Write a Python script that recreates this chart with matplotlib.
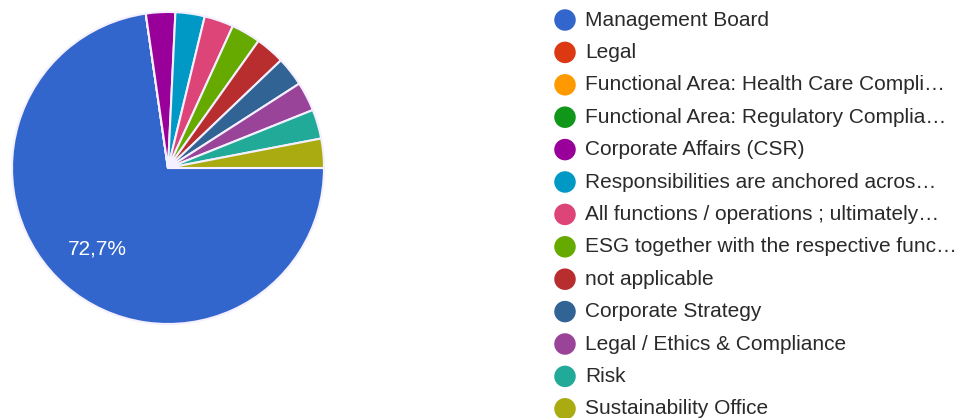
import matplotlib
matplotlib.use('Agg')
import matplotlib.pyplot as plt

plt.rcParams['font.family'] = ['Liberation Sans', 'DejaVu Sans']

# answers per responsible function
labels = [
    'Management Board',
    'Legal',
    'Functional Area: Health Care Compli\u2026',
    'Functional Area: Regulatory Complia\u2026',
    'Corporate Affairs (CSR)',
    'Responsibilities are anchored acros\u2026',
    'All functions / operations ; ultimately\u2026',
    'ESG together with the respective func\u2026',
    'not applicable',
    'Corporate Strategy',
    'Legal / Ethics & Compliance',
    'Risk',
    'Sustainability Office',
]
counts = [24, 0, 0, 0, 1, 1, 1, 1, 1, 1, 1, 1, 1]
colors = ['#3366cc', '#dc3912', '#ff9900', '#109618', '#990099', '#0099c6',
          '#dd4477', '#66aa00', '#b82e2e', '#316395', '#994499', '#22aa99',
          '#aaaa11']

W, H = 961, 418
fig = plt.figure(figsize=(W / 100, H / 100), dpi=100)

# pie: centre (168,168) px, radius 156 px
cx, cy, r = 168, 168, 156
ax = fig.add_axes([(cx - r) / W, (H - cy - r) / H, 2 * r / W, 2 * r / H])


def pct(p):
    return ('%.1f%%' % p).replace('.', ',') if p > 5 else ''


wedges, texts, autotexts = ax.pie(
    counts, colors=colors, startangle=0, counterclock=False,
    autopct=pct, pctdistance=0.69,
    wedgeprops=dict(edgecolor='#f4f0ff', linewidth=1.5),
    textprops=dict(color='white', fontsize=15))
ax.set_xlim(-1, 1)
ax.set_ylim(-1, 1)
ax.set_aspect('equal')

# legend drawn in pixel coordinates
lg = fig.add_axes([0, 0, 1, 1])
lg.set_xlim(0, W)
lg.set_ylim(H, 0)
lg.axis('off')
y0, step = 20, 32.4
for i, (lab, col) in enumerate(zip(labels, colors)):
    y = y0 + i * step
    lg.scatter([565], [y], s=240, color=col, edgecolors='none')
    lg.text(585, y, lab, va='center', ha='left', fontsize=15, color='#2a2a2a')

fig.savefig('out.png', dpi=100)
